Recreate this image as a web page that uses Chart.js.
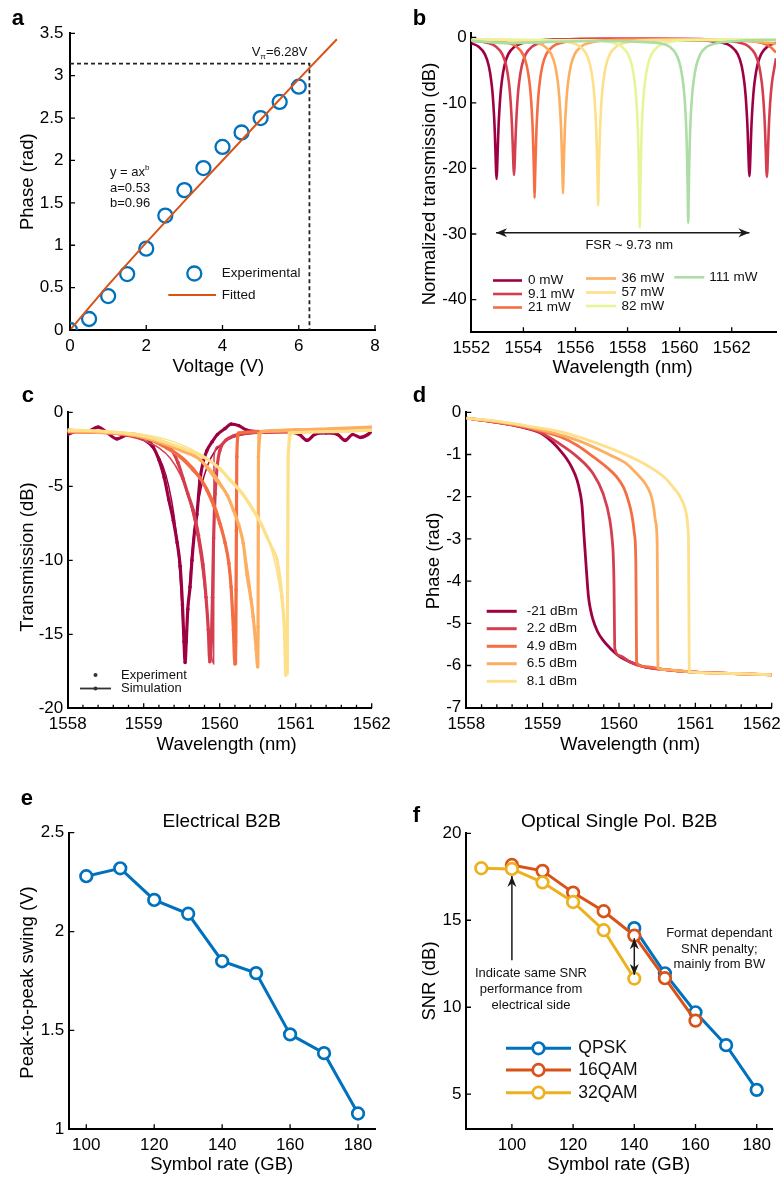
<!DOCTYPE html>
<html>
<head>
<meta charset="utf-8">
<script src="https://cdn.jsdelivr.net/npm/chart.js@4.4.1/dist/chart.umd.min.js"></script>
<style>
  body { margin: 0; background: #fff; }
  #wrap { position: relative; width: 782px; height: 1180px; }
  #wrap canvas { position: absolute; left: 0; top: 0; }
</style>
</head>
<body>
<div id="wrap">
  <canvas id="pa" width="782" height="1180"></canvas>
  <canvas id="pb" width="782" height="1180"></canvas>
  <canvas id="pc" width="782" height="1180"></canvas>
  <canvas id="pd" width="782" height="1180"></canvas>
  <canvas id="pe" width="782" height="1180"></canvas>
  <canvas id="pf" width="782" height="1180"></canvas>
</div>
<script>
// ---- a: phase vs voltage
const aVoltage = [0, 0.5, 1, 1.5, 2, 2.5, 3, 3.5, 4, 4.5, 5, 5.5, 6];
const aPhase = [0, 0.13, 0.40, 0.66, 0.96, 1.35, 1.65, 1.91, 2.16, 2.33, 2.50, 2.69, 2.87];
const aFitVoltage = [0, 1, 2, 3, 4, 5, 6, 7];
const aFitPhase = [0, 0.53, 1.03, 1.52, 2.0, 2.48, 2.96, 3.43];
const vPi = 6.28;
const aTicksX = [0, 2, 4, 6, 8];
const aTicksY = [0, 0.5, 1, 1.5, 2, 2.5, 3, 3.5];

// ---- b: ring transmission vs heater power
const bLabels = ['0 mW', '9.1 mW', '21 mW', '36 mW', '57 mW', '82 mW', '111 mW'];
const b0 = [[1552.0,-0.9],[1552.27,-1.39],[1552.52,-2.57],[1552.67,-4.34],[1552.77,-6.75],[1552.82,-8.7],[1552.87,-11.7],[1552.9,-14.2],[1552.93,-17.7],[1552.95,-20.3],[1552.97,-21.6],[1552.99,-20.3],[1553.01,-17.7],[1553.04,-14.2],[1553.07,-11.7],[1553.12,-8.7],[1553.17,-6.75],[1553.27,-4.34],[1553.42,-2.57],[1553.67,-1.39],[1553.97,-0.87],[1554.5,-0.5],[1556,-0.3],[1558,-0.3],[1560,-0.4],[1561.18,-0.56],[1561.68,-0.87],[1561.98,-1.39],[1562.23,-2.57],[1562.38,-4.34],[1562.48,-6.75],[1562.53,-8.7],[1562.58,-11.7],[1562.61,-14.2],[1562.64,-17.7],[1562.66,-20.0],[1562.68,-21.2],[1562.7,-20.0],[1562.72,-17.7],[1562.75,-14.2],[1562.78,-11.7],[1562.83,-8.7],[1562.88,-6.75],[1562.98,-4.34],[1563.13,-2.57],[1563.38,-1.39],[1563.7,-0.85]];
const b9 = [[1552.0,-0.5],[1552.64,-0.87],[1552.94,-1.39],[1553.19,-2.57],[1553.34,-4.34],[1553.44,-6.75],[1553.49,-8.7],[1553.54,-11.7],[1553.57,-14.2],[1553.6,-17.5],[1553.62,-19.8],[1553.64,-21.0],[1553.66,-19.8],[1553.68,-17.5],[1553.71,-14.2],[1553.74,-11.7],[1553.79,-8.7],[1553.84,-6.75],[1553.94,-4.34],[1554.09,-2.57],[1554.34,-1.39],[1554.64,-0.87],[1555.2,-0.45],[1557,-0.2],[1559,-0.2],[1561,-0.3],[1561.85,-0.56],[1562.35,-0.87],[1562.65,-1.39],[1562.9,-2.57],[1563.05,-4.34],[1563.15,-6.75],[1563.2,-8.7],[1563.25,-11.7],[1563.28,-14.2],[1563.31,-17.7],[1563.33,-20.2],[1563.35,-21.3],[1563.37,-20.2],[1563.39,-17.7],[1563.42,-14.2],[1563.45,-11.7],[1563.5,-8.7],[1563.55,-6.75],[1563.65,-4.34],[1563.7,-3.2]];
const b21 = [[1552.0,-0.45],[1553.0,-0.7],[1553.43,-0.87],[1553.73,-1.39],[1553.98,-2.57],[1554.13,-4.34],[1554.23,-6.75],[1554.28,-8.7],[1554.33,-11.7],[1554.36,-14.3],[1554.39,-18.2],[1554.41,-21.3],[1554.43,-24.5],[1554.45,-21.3],[1554.47,-18.2],[1554.5,-14.3],[1554.53,-11.7],[1554.58,-8.7],[1554.63,-6.75],[1554.73,-4.34],[1554.88,-2.57],[1555.13,-1.39],[1555.43,-0.87],[1556.2,-0.45],[1558,-0.35],[1560,-0.4],[1562,-0.5],[1562.66,-0.56],[1563.16,-0.87],[1563.46,-1.39],[1563.7,-2.3]];
const b36 = [[1552.0,-0.4],[1554.0,-0.55],[1554.52,-0.87],[1554.82,-1.39],[1555.07,-2.57],[1555.22,-4.34],[1555.32,-6.75],[1555.37,-8.7],[1555.42,-11.7],[1555.45,-14.3],[1555.48,-18.0],[1555.5,-21.0],[1555.52,-23.8],[1555.54,-21.0],[1555.56,-18.0],[1555.59,-14.3],[1555.62,-11.7],[1555.67,-8.7],[1555.72,-6.75],[1555.82,-4.34],[1555.97,-2.57],[1556.22,-1.39],[1556.52,-0.87],[1557.3,-0.45],[1560,-0.35],[1562.5,-0.5],[1563.2,-0.75],[1563.7,-1.0]];
const b57 = [[1552.0,-0.35],[1555.0,-0.45],[1555.87,-0.87],[1556.17,-1.39],[1556.42,-2.57],[1556.57,-4.34],[1556.67,-6.75],[1556.72,-8.7],[1556.77,-11.7],[1556.8,-14.4],[1556.83,-18.4],[1556.85,-22.0],[1556.87,-25.6],[1556.89,-22.0],[1556.91,-18.4],[1556.94,-14.4],[1556.97,-11.7],[1557.02,-8.7],[1557.07,-6.75],[1557.17,-4.34],[1557.32,-2.57],[1557.57,-1.39],[1557.87,-0.87],[1558.7,-0.45],[1561,-0.35],[1563.7,-0.4]];
const b82 = [[1552.0,-0.4],[1556.5,-0.45],[1557.47,-0.87],[1557.77,-1.39],[1558.02,-2.57],[1558.17,-4.34],[1558.27,-6.75],[1558.32,-8.7],[1558.37,-11.7],[1558.4,-14.6],[1558.43,-19.0],[1558.45,-23.9],[1558.47,-29.0],[1558.49,-23.9],[1558.51,-19.0],[1558.54,-14.6],[1558.57,-11.7],[1558.62,-8.7],[1558.67,-6.75],[1558.77,-4.34],[1558.92,-2.57],[1559.17,-1.39],[1559.47,-0.87],[1560.3,-0.45],[1563.7,-0.35]];
const b111 = [[1552.0,-0.5],[1553.5,-0.9],[1555,-0.7],[1557,-0.55],[1558.5,-0.7],[1559.33,-0.97],[1559.63,-1.49],[1559.88,-2.67],[1560.03,-4.44],[1560.13,-6.85],[1560.18,-8.8],[1560.23,-11.8],[1560.26,-14.6],[1560.29,-19.0],[1560.31,-23.5],[1560.33,-28.3],[1560.35,-23.5],[1560.37,-19.0],[1560.4,-14.6],[1560.43,-11.8],[1560.48,-8.8],[1560.53,-6.85],[1560.63,-4.44],[1560.78,-2.67],[1561.03,-1.49],[1561.33,-0.97],[1562.2,-0.55],[1563.7,-0.4]];
const bFsrEnds = [1552.95, 1562.68];
const bFsrLevel = -29.8;
const bTicksX = [1552, 1554, 1556, 1558, 1560, 1562];
const bTicksY = [0, -10, -20, -30, -40];

// ---- c: measured / simulated transmission vs optical power
const cLabels = ['-21 dBm', '2.2 dBm', '4.9 dBm', '6.5 dBm', '8.1 dBm'];
const cExpM21 = [[1558.0,-1.5],[1558.1,-1.3],[1558.25,-1.3],[1558.4,-1.0],[1558.5,-1.3],[1558.65,-1.8],[1558.8,-1.5],[1558.95,-1.7],[1559.05,-1.8],[1559.12,-2.3],[1559.2,-3.2],[1559.27,-4.4],[1559.33,-5.9],[1559.39,-7.3],[1559.44,-8.8],[1559.48,-10.4],[1559.51,-13.0],[1559.53,-15.5],[1559.545,-16.9],[1559.56,-15.5],[1559.58,-13.3],[1559.61,-11.8],[1559.635,-10.0],[1559.67,-8.0],[1559.7,-6.9],[1559.74,-4.6],[1559.78,-3.4],[1559.83,-2.6],[1559.9,-2.0],[1559.97,-1.5],[1560.07,-1.1],[1560.15,-0.8],[1560.25,-0.9],[1560.35,-1.2],[1560.5,-1.3],[1560.7,-1.3],[1560.9,-1.3],[1561.05,-1.5],[1561.15,-1.9],[1561.25,-1.5],[1561.4,-1.4],[1561.55,-1.5],[1561.65,-1.9],[1561.75,-1.5],[1561.85,-1.7],[1561.95,-1.5],[1562.0,-1.3]];
const cSimM21 = [[1558,-1.25],[1558.6,-1.4],[1559.0,-1.9],[1559.15,-2.6],[1559.25,-3.6],[1559.33,-5.0],[1559.4,-7.0],[1559.46,-9.8],[1559.5,-12.8],[1559.53,-15.6],[1559.545,-16.6],[1559.56,-15.6],[1559.59,-12.8],[1559.63,-9.8],[1559.69,-7.0],[1559.76,-5.0],[1559.84,-3.6],[1559.94,-2.6],[1560.09,-1.9],[1560.5,-1.4],[1562,-1.25]];
const cExp22 = [[1558,-1.2],[1558.3,-1.3],[1558.6,-1.4],[1558.9,-1.5],[1559.1,-1.8],[1559.25,-2.1],[1559.35,-2.4],[1559.45,-3.4],[1559.52,-4.5],[1559.58,-5.5],[1559.65,-6.6],[1559.72,-8.3],[1559.78,-10.3],[1559.82,-12.5],[1559.85,-14.7],[1559.87,-16.85],[1559.89,-15.5],[1559.905,-12.5],[1559.92,-8.5],[1559.94,-5.5],[1559.97,-3.5],[1560.0,-2.6],[1560.08,-1.9],[1560.18,-1.6],[1560.3,-1.4],[1560.6,-1.35],[1561.0,-1.3],[1561.5,-1.25],[1562,-1.2]];
const cSim22 = [[1558,-1.25],[1558.6,-1.45],[1559.0,-1.9],[1559.2,-2.4],[1559.35,-3.1],[1559.48,-4.2],[1559.58,-5.6],[1559.67,-7.4],[1559.75,-9.8],[1559.82,-12.8],[1559.87,-15.6],[1559.92,-17.0],[1559.925,-3.0],[1559.98,-2.3],[1560.1,-1.8],[1560.4,-1.45],[1561,-1.3],[1562,-1.25]];
const cExp49 = [[1558,-1.3],[1558.3,-1.35],[1558.6,-1.4],[1559.0,-1.7],[1559.3,-2.4],[1559.5,-3.1],[1559.65,-3.9],[1559.75,-4.5],[1559.83,-5.25],[1559.92,-6.3],[1560.0,-7.5],[1560.07,-8.8],[1560.12,-10.2],[1560.15,-11.8],[1560.18,-14.7],[1560.2,-17.0],[1560.21,-15.5],[1560.215,-12.0],[1560.22,-8.0],[1560.225,-3.0],[1560.25,-1.4],[1560.5,-1.3],[1561,-1.2],[1561.5,-1.2],[1562,-1.1]];
const cSim49 = [[1558,-1.25],[1558.6,-1.4],[1559.0,-1.75],[1559.3,-2.3],[1559.55,-3.2],[1559.75,-4.4],[1559.9,-5.8],[1560.02,-7.6],[1560.1,-9.6],[1560.16,-12.5],[1560.2,-15.5],[1560.22,-17.0],[1560.225,-1.45],[1560.5,-1.35],[1561,-1.3],[1562,-1.25]];
const cExp65 = [[1558,-1.3],[1558.4,-1.35],[1558.8,-1.5],[1559.2,-2.0],[1559.5,-2.6],[1559.74,-3.2],[1559.96,-4.6],[1560.1,-5.6],[1560.18,-6.6],[1560.25,-7.6],[1560.31,-8.85],[1560.36,-11.0],[1560.41,-12.6],[1560.44,-13.8],[1560.48,-16.0],[1560.5,-17.2],[1560.505,-14.5],[1560.51,-3.0],[1560.55,-1.3],[1561,-1.2],[1561.5,-1.1],[1562,-1.0]];
const cSim65 = [[1558,-1.25],[1558.6,-1.35],[1559.0,-1.6],[1559.4,-2.2],[1559.7,-3.0],[1559.95,-4.3],[1560.12,-5.8],[1560.25,-7.6],[1560.35,-10.0],[1560.43,-13.0],[1560.48,-15.8],[1560.5,-17.2],[1560.505,-1.4],[1561,-1.3],[1562,-1.25]];
const cExp81 = [[1558,-1.2],[1558.5,-1.3],[1558.9,-1.5],[1559.21,-1.9],[1559.5,-2.4],[1559.78,-3.0],[1560.0,-3.8],[1560.14,-4.6],[1560.3,-5.5],[1560.44,-6.6],[1560.55,-7.6],[1560.62,-8.4],[1560.7,-9.3],[1560.75,-9.9],[1560.8,-11.5],[1560.82,-12.5],[1560.85,-14.5],[1560.87,-17.75],[1560.89,-16.0],[1560.9,-3.0],[1560.95,-1.4],[1561.5,-1.3],[1562,-1.2]];
const cSim81 = [[1558,-1.2],[1558.6,-1.3],[1559.0,-1.5],[1559.4,-2.0],[1559.8,-3.0],[1560.1,-4.3],[1560.35,-5.8],[1560.55,-7.5],[1560.7,-9.6],[1560.8,-12.2],[1560.86,-15.2],[1560.9,-17.7],[1560.905,-1.35],[1561.5,-1.3],[1562,-1.25]];
const cTicksX = [1558, 1559, 1560, 1561, 1562];
const cTicksY = [0, -5, -10, -15, -20];

// ---- d: simulated phase vs optical power
const dM21 = [[1558,-0.14],[1558.4,-0.24],[1558.79,-0.38],[1559.0,-0.52],[1559.14,-0.73],[1559.25,-0.95],[1559.31,-1.09],[1559.38,-1.3],[1559.45,-1.6],[1559.49,-1.9],[1559.515,-2.2],[1559.54,-2.87],[1559.57,-3.66],[1559.6,-4.37],[1559.63,-4.7],[1559.66,-4.92],[1559.72,-5.2],[1559.79,-5.4],[1559.9,-5.62],[1560.01,-5.79],[1560.15,-5.92],[1560.32,-6.03],[1560.6,-6.1],[1560.93,-6.15],[1561.5,-6.19],[1562,-6.22]];
const d22 = [[1558,-0.14],[1558.4,-0.24],[1558.79,-0.37],[1559.0,-0.5],[1559.2,-0.72],[1559.45,-1.05],[1559.66,-1.45],[1559.79,-1.92],[1559.88,-2.55],[1559.91,-3.0],[1559.925,-3.4],[1559.935,-4.13],[1559.94,-5.0],[1559.945,-5.6],[1560.01,-5.77],[1560.15,-5.92],[1560.32,-6.03],[1560.6,-6.1],[1560.93,-6.15],[1561.5,-6.19],[1562,-6.22]];
const d49 = [[1558,-0.14],[1558.4,-0.23],[1558.79,-0.36],[1559.23,-0.58],[1559.45,-0.78],[1559.66,-1.05],[1559.85,-1.32],[1559.97,-1.53],[1560.06,-1.78],[1560.12,-2.08],[1560.17,-2.45],[1560.2,-2.85],[1560.22,-3.5],[1560.225,-4.5],[1560.23,-5.93],[1560.32,-6.02],[1560.6,-6.1],[1560.93,-6.15],[1561.5,-6.19],[1562,-6.22]];
const d65 = [[1558,-0.14],[1558.4,-0.22],[1558.79,-0.34],[1559.45,-0.66],[1559.88,-1.01],[1560.1,-1.22],[1560.23,-1.45],[1560.34,-1.68],[1560.41,-1.92],[1560.45,-2.2],[1560.48,-2.6],[1560.5,-3.1],[1560.505,-4.5],[1560.51,-6.06],[1560.6,-6.1],[1560.93,-6.15],[1561.5,-6.19],[1562,-6.22]];
const d81 = [[1558,-0.14],[1558.4,-0.21],[1558.79,-0.32],[1559.23,-0.46],[1559.88,-0.85],[1560.32,-1.21],[1560.6,-1.55],[1560.72,-1.8],[1560.8,-2.0],[1560.86,-2.25],[1560.89,-2.5],[1560.905,-2.8],[1560.91,-3.03],[1560.915,-4.5],[1560.92,-6.15],[1561.5,-6.19],[1562,-6.22]];
const dTicksX = [1558, 1559, 1560, 1561, 1562];
const dTicksY = [0, -1, -2, -3, -4, -5, -6, -7];

// ---- e: electrical B2B swing
const eRate = [100, 110, 120, 130, 140, 150, 160, 170, 180];
const eSwing = [2.28, 2.32, 2.16, 2.09, 1.85, 1.79, 1.48, 1.385, 1.08];
const eTicksX = [100, 120, 140, 160, 180];
const eTicksY = [1, 1.5, 2, 2.5];

// ---- f: optical single pol. B2B SNR
const fRateQPSK = [140, 150, 160, 170, 180];
const fQPSK = [14.55, 11.95, 9.71, 7.82, 5.25];
const fRate16 = [100, 110, 120, 130, 140, 150, 160];
const f16QAM = [18.18, 17.84, 16.59, 15.52, 14.12, 11.67, 9.23];
const fRate32 = [90, 100, 110, 120, 130, 140];
const f32QAM = [17.99, 17.95, 17.18, 16.05, 14.43, 11.65];
const fTicksX = [100, 120, 140, 160, 180];
const fTicksY = [5, 10, 15, 20];

const FONT = '"Liberation Sans", Arial, Helvetica, sans-serif';
Chart.defaults.font.family = FONT;
const W = 782, H = 1180;
const spectral = ['#9e0142', '#d53e4f', '#f46d43', '#fdae61', '#fee08b', '#e6f598', '#abdda4'];

const xy = arr => arr.map(([x, y]) => ({ x, y }));
const zip = (xs, ys) => xs.map((x, i) => ({ x, y: ys[i] }));

function axis(o) {
  return {
    type: 'linear', min: o.min, max: o.max,
    afterBuildTicks: s => { s.ticks = o.ticks.map(v => ({ value: v })); },
    afterFit: s => { if (s.isHorizontal()) s.height = 40; else s.width = 45; },
    grid: { display: false, drawTicks: false },
    border: { display: true, color: '#000', width: 2 },
    ticks: {
      autoSkip: false, maxRotation: 0, color: '#000', padding: o.pad, font: { size: 17 },
      callback: v => (o.hide && o.hide.includes(v)) ? '' : String(v)
    }
  };
}

// inward tick marks along the bottom and left axes
function inTicks(minorX) {
  return {
    id: 'inTicks',
    afterDatasetsDraw(chart) {
      const { ctx, chartArea: a, scales: { x, y } } = chart;
      ctx.save();
      ctx.strokeStyle = '#000';
      ctx.lineWidth = 1.3;
      ctx.beginPath();
      x.ticks.forEach(t => { const p = x.getPixelForValue(t.value); ctx.moveTo(p, a.bottom); ctx.lineTo(p, a.bottom - 5); });
      if (minorX) {
        for (let v = x.min + minorX; v < x.max - 1e-6; v += minorX) {
          const p = x.getPixelForValue(v);
          ctx.moveTo(p, a.bottom); ctx.lineTo(p, a.bottom - 3.5);
        }
      }
      y.ticks.forEach(t => { const p = y.getPixelForValue(t.value); ctx.moveTo(a.left, p); ctx.lineTo(a.left + 5, p); });
      ctx.stroke();
      ctx.restore();
    }
  };
}

function drawText(ctx, t) {
  const size = t.size || 13;
  const parts = t.parts || [{ s: t.text }];
  const fontOf = p => (t.bold ? 'bold ' : '') + ((p.sup || p.sub) ? size * 0.62 : size) + 'px ' + FONT;
  ctx.save();
  ctx.translate(t.x, t.y);
  if (t.rot) ctx.rotate(t.rot);
  ctx.fillStyle = t.color || '#000';
  ctx.textBaseline = t.base || 'middle';
  ctx.textAlign = 'left';
  const widths = parts.map(p => { ctx.font = fontOf(p); return ctx.measureText(p.s).width; });
  const total = widths.reduce((s, w) => s + w, 0);
  let x = t.align === 'center' ? -total / 2 : (t.align === 'right' ? -total : 0);
  parts.forEach((p, i) => {
    ctx.font = fontOf(p);
    const dy = p.sup ? -size * 0.38 : (p.sub ? size * 0.28 : 0);
    ctx.fillText(p.s, x, dy);
    x += widths[i];
  });
  ctx.restore();
}

function arrowHead(ctx, tx, ty, fx, fy) {
  const ang = Math.atan2(ty - fy, tx - fx), len = 11, half = 4.5;
  const c = Math.cos(ang), s = Math.sin(ang);
  ctx.beginPath();
  ctx.moveTo(tx, ty);
  ctx.lineTo(tx - len * c - half * s, ty - len * s + half * c);
  ctx.lineTo(tx - len * 0.7 * c, ty - len * 0.7 * s);
  ctx.lineTo(tx - len * c + half * s, ty - len * s - half * c);
  ctx.closePath();
  ctx.fill();
}

// texts, arrows and legend keys for one panel
function notes(o) {
  return {
    id: 'notes',
    afterDraw(chart) {
      const { ctx, scales: { x: sx, y: sy } } = chart;
      ctx.save();
      (o.arrows || []).forEach(a => {
        const x1 = sx.getPixelForValue(a.from[0]), y1 = sy.getPixelForValue(a.from[1]);
        const x2 = sx.getPixelForValue(a.to[0]), y2 = sy.getPixelForValue(a.to[1]);
        ctx.strokeStyle = ctx.fillStyle = '#1a1a1a';
        ctx.lineWidth = 1.5;
        ctx.beginPath(); ctx.moveTo(x1, y1); ctx.lineTo(x2, y2); ctx.stroke();
        arrowHead(ctx, x2, y2, x1, y1);
        if (a.both) arrowHead(ctx, x1, y1, x2, y2);
      });
      (o.keys || []).forEach(k => {
        const ds = chart.data.datasets[k.ds] || {};
        const col = k.color || ds.borderColor;
        if (k.line) {
          ctx.strokeStyle = col;
          ctx.lineWidth = k.lw || ds.borderWidth;
          ctx.beginPath(); ctx.moveTo(k.lx1, k.y); ctx.lineTo(k.lx2, k.y); ctx.stroke();
        }
        if (k.dot) {
          const cx = (k.lx1 + k.lx2) / 2;
          ctx.beginPath(); ctx.arc(cx, k.y, k.dot, 0, Math.PI * 2);
          if (k.ring) {
            ctx.fillStyle = '#fff'; ctx.fill();
            ctx.strokeStyle = col; ctx.lineWidth = k.ring; ctx.stroke();
          } else {
            ctx.fillStyle = col; ctx.fill();
          }
        }
        drawText(ctx, { text: k.label || ds.label, x: k.tx, y: k.y, size: k.size || 13.5, color: '#111' });
      });
      // a tick label shifted inward so it stays on the page, on the same row as the others
      (o.edgeLabels || []).forEach(e => {
        const it = sx.getLabelItems()[0];
        ctx.font = '17px ' + FONT;
        ctx.fillStyle = '#000';
        ctx.textAlign = 'center';
        ctx.textBaseline = it.options.textBaseline;
        ctx.fillText(e.text, e.x, it.options.translation[1] + it.textOffset);
      });
      (o.texts || []).forEach(t => drawText(ctx, t));
      ctx.restore();
    }
  };
}

function panel(id, area, xAxis, yAxis, datasets, o) {
  return new Chart(document.getElementById(id), {
    type: 'scatter',
    data: { datasets: datasets.map((d, i) => Object.assign({ order: datasets.length - i, pointHoverRadius: 0 }, d)) },
    options: {
      responsive: false, animation: false, devicePixelRatio: 1, events: [],
      layout: { padding: { left: area[0] - 45, top: area[1], right: W - area[2], bottom: H - area[3] - 40 } },
      scales: { x: axis(xAxis), y: axis(yAxis) },
      plugins: { legend: { display: false }, tooltip: { enabled: false } }
    },
    plugins: [inTicks(o.minorX), notes(o)]
  });
}

const letter = (s, x, y) => ({ text: s, x, y, size: 22, bold: true, base: 'alphabetic' });
const yTitle = (s, x, y) => ({ text: s, x, y, size: 18.5, rot: -Math.PI / 2, align: 'center' });
const xTitle = (s, x, y) => ({ text: s, x, y, size: 18.5, align: 'center' });

// ---------- panel a
panel('pa', [70, 33.3, 375, 330],
  { min: 0, max: 8, ticks: aTicksX, pad: 6.5 },
  { min: 0, max: 3.5, ticks: aTicksY, pad: 6.5 },
  [
    { label: 'Experimental', data: zip(aVoltage, aPhase), showLine: false, pointRadius: 7, pointBorderWidth: 2.3,
      borderColor: '#0072BD', pointBackgroundColor: 'rgba(0,0,0,0)', order: 3 },
    { label: 'Fitted', data: zip(aFitVoltage, aFitPhase), showLine: true, borderColor: '#D95319', borderWidth: 2, pointRadius: 0, order: 1 },
    { label: 'Vpi', data: [{ x: 0, y: Math.PI }, { x: vPi, y: Math.PI }, { x: vPi, y: 0 }], showLine: true,
      borderColor: '#222', borderWidth: 1.8, borderDash: [4, 3], pointRadius: 0, order: 2 }
  ],
  {
    keys: [
      { ds: 0, lx1: 194.3, lx2: 194.3, tx: 221.7, y: 273.5, dot: 7, ring: 2.3, color: '#0072BD' },
      { ds: 1, lx1: 168.3, lx2: 216, tx: 221.7, y: 295, line: true }
    ],
    texts: [
      letter('a', 11.7, 25),
      yTitle('Phase (rad)', 28.3, 181.7),
      xTitle('Voltage (V)', 218.3, 366.7),
      { parts: [{ s: 'y = ax' }, { s: 'b', sup: true }], x: 110, y: 172.7, size: 13, color: '#111' },
      { text: 'a=0.53', x: 110, y: 188.3, size: 13, color: '#111' },
      { text: 'b=0.96', x: 110, y: 203.3, size: 13, color: '#111' },
      { parts: [{ s: 'V' }, { s: 'π', sub: true }, { s: '=6.28V' }], x: 251.7, y: 52.7, size: 13, color: '#111' }
    ]
  });

// ---------- panel b
const bSeries = [b0, b9, b21, b36, b57, b82, b111];
panel('pb', [471.3, 33.4, 776, 332.3],
  { min: 1552, max: 1563.7, ticks: bTicksX, pad: 6 },
  { min: -45, max: 0.6, ticks: bTicksY, pad: 4.5 },
  bSeries.map((s, i) => ({ label: bLabels[i], data: xy(s), showLine: true, borderColor: spectral[i], borderWidth: 2.6,
    pointRadius: 0, cubicInterpolationMode: 'monotone' })),
  {
    arrows: [{ from: [bFsrEnds[0], bFsrLevel], to: [bFsrEnds[1], bFsrLevel], both: true }],
    keys: [
      { ds: 0, lx1: 493, lx2: 522, tx: 528, y: 280.5, line: true, lw: 2.6 },
      { ds: 1, lx1: 493, lx2: 522, tx: 528, y: 294, line: true, lw: 2.6 },
      { ds: 2, lx1: 493, lx2: 522, tx: 528, y: 307.5, line: true, lw: 2.6 },
      { ds: 3, lx1: 586, lx2: 616, tx: 621.5, y: 278.5, line: true, lw: 2.6 },
      { ds: 4, lx1: 586, lx2: 616, tx: 621.5, y: 292.5, line: true, lw: 2.6 },
      { ds: 5, lx1: 586, lx2: 616, tx: 621.5, y: 306, line: true, lw: 2.6 },
      { ds: 6, lx1: 674.3, lx2: 704.3, tx: 709.3, y: 277.3, line: true, lw: 2.6 }
    ],
    texts: [
      letter('b', 412.7, 25),
      yTitle('Normalized transmission (dB)', 430.3, 184),
      xTitle('Wavelength (nm)', 622.7, 368.3),
      { text: 'FSR ~ 9.73 nm', x: 629.3, y: 245, size: 13, align: 'center', color: '#111' }
    ]
  });

// ---------- panel c
const cExp = [cExpM21, cExp22, cExp49, cExp65, cExp81];
const cSim = [cSimM21, cSim22, cSim49, cSim65, cSim81];
const cSets = [];
cExp.forEach((s, i) => {
  cSets.push({ label: cLabels[i] + ' experiment', data: xy(s), showLine: true, borderColor: spectral[i], borderWidth: 3.2,
    pointRadius: 1.8, pointBorderWidth: 0, pointBackgroundColor: spectral[i], cubicInterpolationMode: 'monotone' });
  cSets.push({ label: cLabels[i] + ' simulation', data: xy(cSim[i]), showLine: true, borderColor: spectral[i], borderWidth: 1.5,
    pointRadius: 0, cubicInterpolationMode: 'monotone' });
});
panel('pc', [67.7, 412.3, 371.7, 708.3],
  { min: 1558, max: 1562, ticks: cTicksX, pad: 5.5 },
  { min: -20, max: 0, ticks: cTicksY, pad: 4.5 },
  cSets,
  {
    minorX: 0.2,
    keys: [
      { ds: -1, label: 'Experiment', lx1: 95.5, lx2: 95.5, tx: 121, y: 675, dot: 2, color: '#333', size: 13 },
      { ds: -1, label: 'Simulation', lx1: 80, lx2: 111, tx: 121, y: 688.5, dot: 2, line: true, lw: 1.8, color: '#333', size: 13 }
    ],
    texts: [
      letter('c', 21.7, 401.7),
      yTitle('Transmission (dB)', 28.3, 557),
      xTitle('Wavelength (nm)', 226.7, 745)
    ]
  });

// ---------- panel d
const dSeries = [dM21, d22, d49, d65, d81];
panel('pd', [466.3, 412.3, 771.7, 707.7],
  { min: 1558, max: 1562, ticks: dTicksX, pad: 6.5, hide: [1562] },
  { min: -7, max: 0, ticks: dTicksY, pad: 5 },
  dSeries.map((s, i) => ({ label: cLabels[i], data: xy(s), showLine: true, borderColor: spectral[i], borderWidth: 2.8,
    pointRadius: 0, cubicInterpolationMode: 'monotone' })),
  {
    minorX: 0.2,
    edgeLabels: [{ text: '1562', x: 761.7 }],
    keys: [0, 1, 2, 3, 4].map(i => ({ ds: i, lx1: 486.7, lx2: 516.7, tx: 526.7, y: [611.3, 628.7, 646.3, 663.7, 681.3][i], line: true, lw: 3 })),
    texts: [
      letter('d', 412.7, 401.7),
      yTitle('Phase (rad)', 434.3, 561),
      xTitle('Wavelength (nm)', 630.2, 745)
    ]
  });

// ---------- panel e
panel('pe', [69.3, 832.7, 375, 1129.3],
  { min: 95, max: 185, ticks: eTicksX, pad: 5.8 },
  { min: 1, max: 2.5, ticks: eTicksY, pad: 5 },
  [{ label: 'Electrical B2B', data: zip(eRate, eSwing), showLine: true, borderColor: '#0072BD', borderWidth: 3,
    pointRadius: 5.8, pointBorderWidth: 2.7, pointBackgroundColor: '#fff', tension: 0 }],
  {
    texts: [
      letter('e', 20.7, 805),
      { text: 'Electrical B2B', x: 221.7, y: 827.3, size: 19, align: 'center', base: 'alphabetic' },
      yTitle('Peak-to-peak swing (V)', 28.3, 982.5),
      xTitle('Symbol rate (GB)', 221.7, 1165)
    ]
  });

// ---------- panel f
panel('pf', [466, 833.3, 772, 1129],
  { min: 85, max: 185, ticks: fTicksX, pad: 6 },
  { min: 3, max: 20, ticks: fTicksY, pad: 4.5 },
  [
    { label: 'QPSK', data: zip(fRateQPSK, fQPSK), borderColor: '#0072BD' },
    { label: '16QAM', data: zip(fRate16, f16QAM), borderColor: '#D95319' },
    { label: '32QAM', data: zip(fRate32, f32QAM), borderColor: '#EDB120' }
  ].map(d => Object.assign(d, { showLine: true, borderWidth: 3, pointRadius: 5.8, pointBorderWidth: 2.7, pointBackgroundColor: '#fff', tension: 0 })),
  {
    arrows: [
      { from: [100, 12.7], to: [100, 17.55] },
      { from: [140, 11.86], to: [140, 13.97], both: true }
    ],
    keys: [
      { ds: 0, lx1: 506, lx2: 571, tx: 578.3, y: 1048.3, line: true, dot: 5.8, ring: 2.7, size: 17.5 },
      { ds: 1, lx1: 506, lx2: 571, tx: 578.3, y: 1070, line: true, dot: 5.8, ring: 2.7, size: 17.5 },
      { ds: 2, lx1: 506, lx2: 571, tx: 578.3, y: 1092.7, line: true, dot: 5.8, ring: 2.7, size: 17.5 }
    ],
    texts: [
      letter('f', 412.7, 821.7),
      { text: 'Optical Single Pol. B2B', x: 619.3, y: 826.7, size: 19, align: 'center', base: 'alphabetic' },
      yTitle('SNR (dB)', 430.3, 981),
      xTitle('Symbol rate (GB)', 618.8, 1165),
      { text: 'Indicate same SNR', x: 531, y: 973.3, size: 13, align: 'center', color: '#111' },
      { text: 'performance from', x: 531, y: 989, size: 13, align: 'center', color: '#111' },
      { text: 'electrical side', x: 531, y: 1005, size: 13, align: 'center', color: '#111' },
      { text: 'Format dependant', x: 719.3, y: 933.3, size: 13, align: 'center', color: '#111' },
      { text: 'SNR penalty;', x: 719.3, y: 949, size: 13, align: 'center', color: '#111' },
      { text: 'mainly from BW', x: 719.3, y: 964.3, size: 13, align: 'center', color: '#111' }
    ]
  });
</script>
</body>
</html>
